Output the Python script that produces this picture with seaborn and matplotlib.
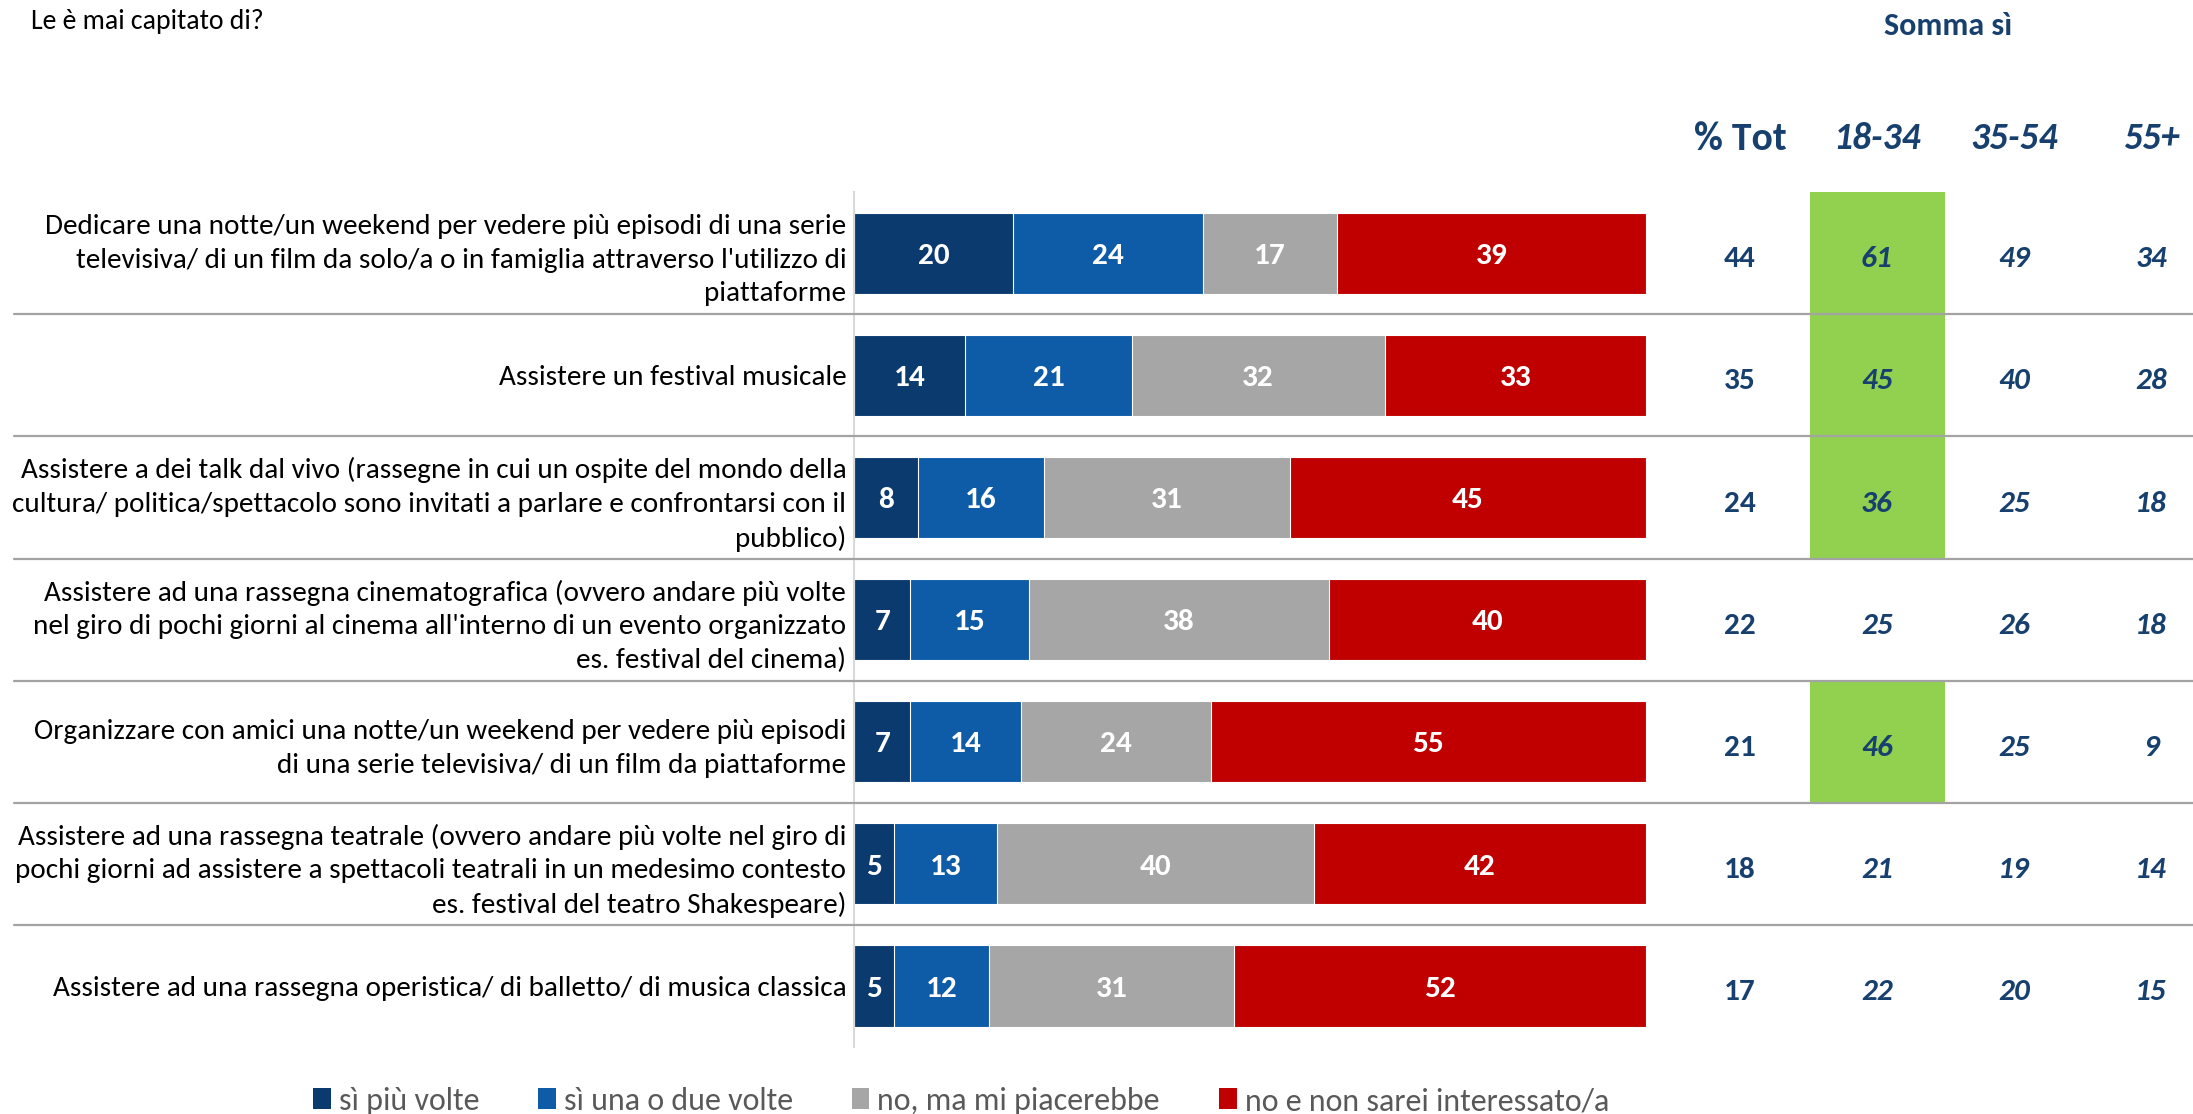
import matplotlib
matplotlib.use("Agg")
import matplotlib.pyplot as plt
import matplotlib.transforms as mtransforms
from matplotlib.patches import Patch, Rectangle
import numpy as np
import pandas as pd
import seaborn as sns

# ---- data -------------------------------------------------------------
categories = [
    "Dedicare una notte/un weekend per vedere più episodi di una serie\n"
    "televisiva/ di un film da solo/a o in famiglia attraverso l'utilizzo di\n"
    "piattaforme",
    "Assistere un festival musicale",
    "Assistere a dei talk dal vivo (rassegne in cui un ospite del mondo della\n"
    "cultura/ politica/spettacolo sono invitati a parlare e confrontarsi con il\n"
    "pubblico)",
    "Assistere ad una rassegna cinematografica (ovvero andare più volte\n"
    "nel giro di pochi giorni al cinema all'interno di un evento organizzato\n"
    "es. festival del cinema)",
    "Organizzare con amici una notte/un weekend per vedere più episodi\n"
    "di una serie televisiva/ di un film da piattaforme",
    "Assistere ad una rassegna teatrale (ovvero andare più volte nel giro di\n"
    "pochi giorni ad assistere a spettacoli teatrali in un medesimo contesto\n"
    "es. festival del teatro Shakespeare)",
    "Assistere ad una rassegna operistica/ di balletto/ di musica classica",
]

series_names = ["sì più volte", "sì una o due volte",
                "no, ma mi piacerebbe", "no e non sarei interessato/a"]
si_piu_volte = [20, 14, 8, 7, 7, 5, 5]
si_una_o_due = [24, 21, 16, 15, 14, 13, 12]
no_piacerebbe = [17, 32, 31, 38, 24, 40, 31]
no_non_interessato = [39, 33, 45, 40, 55, 42, 52]

table_title = "Somma sì"
table_headers = ["% Tot", "18-34", "35-54", "55+"]
somma_tot = [44, 35, 24, 22, 21, 18, 17]
somma_18_34 = [61, 45, 36, 25, 46, 21, 22]
somma_35_54 = [49, 40, 25, 26, 25, 19, 20]
somma_55 = [34, 28, 18, 18, 9, 14, 15]
highlight_18_34 = [True, True, True, False, True, False, False]

title = "Le è mai capitato di?"

# ---- style ------------------------------------------------------------
colors = ["#0B3A6E", "#0E5BA8", "#A6A6A6", "#C00000"]
text_blue = "#17406F"
green = "#92D050"

sns.set_theme(style="white")
plt.rcParams["font.family"] = ["Carlito", "DejaVu Sans"]

W, H = 2193, 1114
fig = plt.figure(figsize=(W / 100, H / 100), dpi=100)
fig.patch.set_facecolor("white")

ax_left, ax_right = 854.5, 1646.0
ax_top, ax_bottom = 192.2, 1047.0
ax = fig.add_axes([ax_left / W, 1 - ax_bottom / H,
                   (ax_right - ax_left) / W, (ax_bottom - ax_top) / H])

# ---- stacked bars (layered cumulative widths) --------------------------
series = [si_piu_volte, si_una_o_due, no_piacerebbe, no_non_interessato]
cum = np.cumsum(np.array(series), axis=0)
for k in range(len(series) - 1, -1, -1):
    df = pd.DataFrame({"categoria": categories, "fine": cum[k]})
    sns.barplot(data=df, x="fine", y="categoria", orient="h", order=categories,
                color=colors[k], saturation=1, width=0.665,
                edgecolor="white", linewidth=0.8, ax=ax)

# segment values, nudged so the digits sit on the bar's mid-line
for k, vals in enumerate(series):
    for j, v in enumerate(vals):
        start = cum[k][j] - v
        ax.text(start + v / 2, j + 0.022, str(v), ha="center", va="center",
                color="white", fontsize=22.5, fontweight="bold")

ax.set_xlim(0, 100)
ax.set_ylim(6.5, -0.5)
ax.set_xlabel("")
ax.set_ylabel("")
ax.set_xticks([])
ax.tick_params(axis="y", length=0, pad=6, labelsize=21, labelcolor="black")
for lab in ax.get_yticklabels():
    lab.set_multialignment("right")
    lab.set_linespacing(1.43)
for s in ["top", "right", "bottom"]:
    ax.spines[s].set_visible(False)
ax.spines["left"].set_color("#D9D9D9")
ax.spines["left"].set_linewidth(1.5)

# ---- row separators, highlight cells and side table ----------------------
blend = mtransforms.blended_transform_factory(fig.transFigure, ax.transData)

col_x = [1739.9, 1876.9, 2014.0, 2151.0]
hl_left, hl_right = 1809.8, 1945.4
for j, flag in enumerate(highlight_18_34):
    if flag:
        ax.add_patch(Rectangle((hl_left / W, j - 0.5), (hl_right - hl_left) / W, 1.0,
                               transform=blend, facecolor=green, edgecolor="none",
                               clip_on=False, zorder=0.5))

for j in range(len(categories) - 1):
    ax.plot([14 / W, 1.0], [j + 0.5, j + 0.5], transform=blend, color="#A3A3A3",
            lw=1.6, clip_on=False, zorder=3)

table_cols = [somma_tot, somma_18_34, somma_35_54, somma_55]
for c, col in enumerate(table_cols):
    for j, v in enumerate(col):
        ax.text(col_x[c] / W, j + 0.05, str(v), transform=blend, ha="center",
                va="center", fontsize=22.5, fontweight="bold", color=text_blue,
                fontstyle="normal" if c == 0 else "italic", zorder=4)

for c, head in enumerate(table_headers):
    fig.text(col_x[c] / W, 1 - 138.5 / H, head, ha="center", va="center",
             fontsize=28.5 if c == 0 else 27, fontweight="bold", color=text_blue,
             fontstyle="normal" if c == 0 else "italic")

fig.text(1948 / W, 1 - 26 / H, table_title, ha="center", va="center",
         fontsize=23, fontweight="bold", color=text_blue)

fig.text(31 / W, 1 - 21 / H, title, ha="left", va="center",
         fontsize=20, color="black")

# ---- legend -------------------------------------------------------------
handles = [Patch(facecolor=c, edgecolor="none") for c in colors]
fig.legend(handles, series_names, ncol=4, loc="center",
           bbox_to_anchor=(961 / W, 1 - 1101 / H), frameon=False,
           fontsize=23, labelcolor="#595959", handlelength=0.55,
           handleheight=0.65, handletextpad=0.25, columnspacing=1.85)

fig.savefig("out.png", dpi=100, facecolor="white")
